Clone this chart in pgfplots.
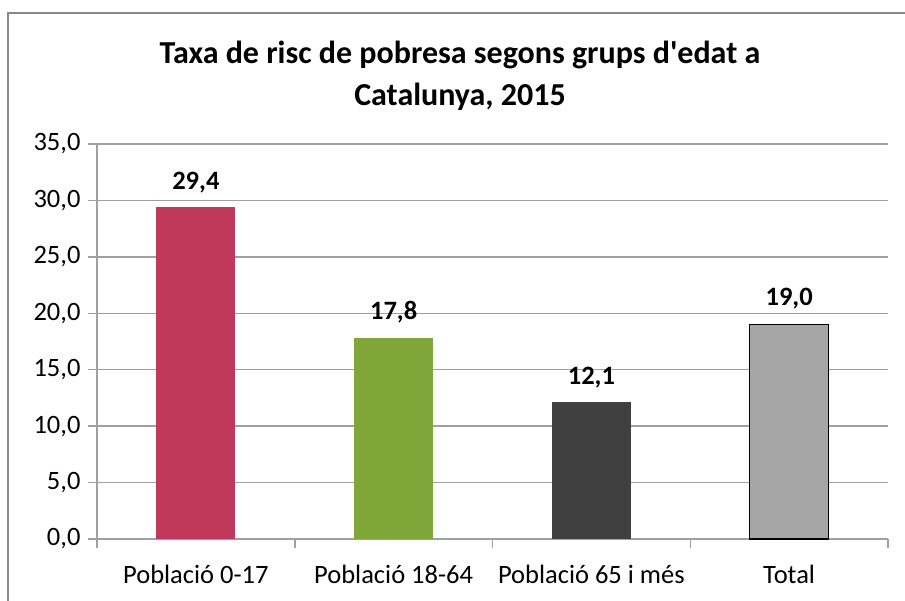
\documentclass[border=0pt]{standalone}
\usepackage{fontspec}
\setmainfont{Carlito}
\usepackage{pgfplots}
\pgfplotsset{compat=1.18}
\definecolor{cred}{HTML}{C0395A}
\definecolor{cgreen}{HTML}{7FA639}
\definecolor{cdark}{HTML}{404040}
\definecolor{clight}{HTML}{A6A6A6}
\definecolor{cgrid}{HTML}{A0A0A0}
\definecolor{cframe}{HTML}{8A8A8A}
\begin{document}
\begin{tikzpicture}[x=1pt,y=1pt]
\useasboundingbox (0,0) rectangle (905,601);
\draw[cframe,line width=2pt] (8,-20) -- (8,588) -- (930,588);
\node[font=\fontsize{32}{42}\selectfont\bfseries,align=center] at (460,525) {Taxa de risc de pobresa segons grups d\textquotesingle edat a\\Catalunya, 2015};
\begin{axis}[
  at={(97pt,62pt)}, anchor=south west,
  scale only axis, width=791pt, height=395pt,
  ymin=0, ymax=35, ytick={0,5,...,35},
  xmin=-0.5, xmax=3.5,
  xtick={0,1,2,3},
  xticklabels={Població 0-17,Població 18-64,Població 65 i més,Total},
  minor xtick={-0.5,0.5,1.5,2.5,3.5},
  major x tick style={draw=none},
  minor x tick style={cgrid,line width=1.5pt},
  minor tick length=9pt,
  major tick length=9pt,
  y tick style={cgrid,line width=1.5pt},
  tick align=outside,
  tick pos=left,
  axis x line*=bottom, axis y line*=left,
  axis line style={cgrid,line width=1.5pt,-},
  ymajorgrids, grid style={cgrid,line width=1.5pt},
  ticklabel style={font=\fontsize{26.5}{30}\selectfont},
  xticklabel style={yshift=-14pt},
  yticklabel style={xshift=-4pt},
  /pgf/number format/assume math mode=true,
  /pgf/number format/.cd, use comma, fixed, fixed zerofill, precision=1,
  /pgfplots/.cd,
  ybar, bar width=79pt, bar shift=0pt,
  nodes near coords,
  nodes near coords style={font=\fontsize{26.5}{30}\selectfont\bfseries, yshift=11pt},
  clip=false,
]
\addplot[fill=cred,draw=none] coordinates {(0,29.4)};
\addplot[fill=cgreen,draw=none] coordinates {(1,17.8)};
\addplot[fill=cdark,draw=none] coordinates {(2,12.1)};
\addplot[fill=clight,draw=black,line width=1.5pt] coordinates {(3,19.0)};
\end{axis}
\end{tikzpicture}
\end{document}
